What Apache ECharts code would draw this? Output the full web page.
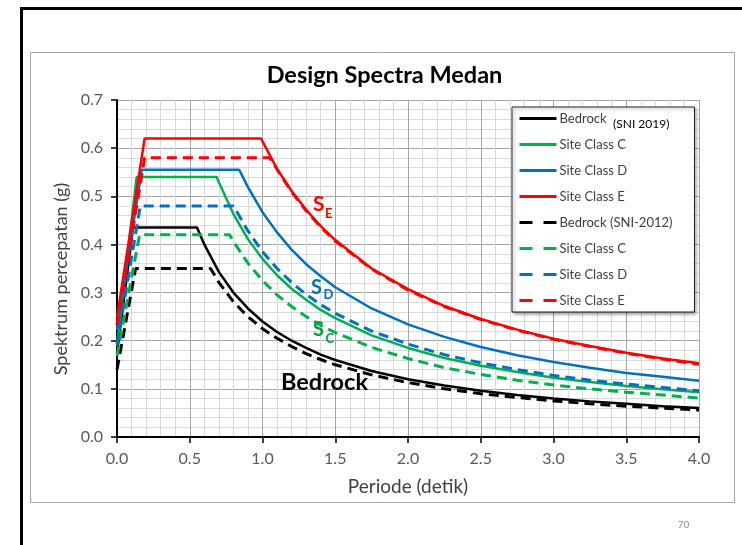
<!DOCTYPE html>
<html>
<head>
<meta charset="utf-8">
<script src="https://cdn.jsdelivr.net/npm/echarts@6/dist/echarts.min.js"></script>
<style>
  html, body { margin: 0; padding: 0; background: #ffffff; }
  #chart { width: 742px; height: 545px; }
</style>
</head>
<body>
<div id="chart"></div>
<script>
// Design response spectra, Medan: SNI 1726:2019 (solid) vs SNI 1726:2012 (dashed)
// Each list holds [period (s), spectral acceleration (g)]

const bedrock2019 = [[0,0.174],[0.11,0.435],[0.55,0.435],[0.6,0.400],[0.7,0.343],[0.8,0.300],[0.9,0.267],[1.0,0.240],[1.1,0.218],[1.2,0.200],[1.3,0.185],[1.4,0.171],[1.5,0.160],[1.75,0.137],[2.0,0.120],[2.25,0.107],[2.5,0.096],[2.75,0.087],[3.0,0.080],[3.25,0.074],[3.5,0.069],[3.75,0.064],[4.0,0.060]];
const siteC2019 = [[0,0.19],[0.135,0.54],[0.685,0.54],[0.7,0.529],[0.8,0.463],[0.9,0.411],[1.0,0.370],[1.1,0.336],[1.2,0.308],[1.3,0.285],[1.4,0.264],[1.5,0.247],[1.75,0.211],[2.0,0.185],[2.25,0.164],[2.5,0.148],[2.75,0.135],[3.0,0.123],[3.25,0.114],[3.5,0.106],[3.75,0.099],[4.0,0.093]];
const siteD2019 = [[0,0.222],[0.17,0.555],[0.84,0.555],[0.9,0.519],[1.0,0.467],[1.1,0.425],[1.2,0.389],[1.3,0.359],[1.4,0.334],[1.5,0.311],[1.75,0.267],[2.0,0.234],[2.25,0.208],[2.5,0.187],[2.75,0.170],[3.0,0.156],[3.25,0.144],[3.5,0.133],[3.75,0.125],[4.0,0.117]];
const siteE2019 = [[0,0.248],[0.19,0.62],[0.99,0.62],[1.1,0.557],[1.2,0.511],[1.3,0.472],[1.4,0.438],[1.5,0.409],[1.75,0.350],[2.0,0.307],[2.25,0.272],[2.5,0.245],[2.75,0.223],[3.0,0.204],[3.25,0.189],[3.5,0.175],[3.75,0.163],[4.0,0.153]];

const bedrock2012 = [[0,0.14],[0.128,0.35],[0.643,0.35],[0.7,0.321],[0.8,0.281],[0.9,0.250],[1.0,0.225],[1.1,0.205],[1.2,0.188],[1.3,0.173],[1.4,0.161],[1.5,0.150],[1.75,0.129],[2.0,0.113],[2.25,0.100],[2.5,0.090],[2.75,0.082],[3.0,0.075],[3.25,0.069],[3.5,0.064],[3.75,0.060],[4.0,0.056]];
const siteC2012 = [[0,0.168],[0.155,0.42],[0.774,0.42],[0.8,0.406],[0.9,0.361],[1.0,0.325],[1.1,0.295],[1.2,0.271],[1.3,0.250],[1.4,0.232],[1.5,0.217],[1.75,0.186],[2.0,0.163],[2.25,0.144],[2.5,0.130],[2.75,0.118],[3.0,0.108],[3.25,0.100],[3.5,0.093],[3.75,0.087],[4.0,0.081]];
const siteD2012 = [[0,0.192],[0.16,0.48],[0.80,0.48],[0.9,0.428],[1.0,0.385],[1.1,0.350],[1.2,0.321],[1.3,0.296],[1.4,0.275],[1.5,0.257],[1.75,0.220],[2.0,0.193],[2.25,0.171],[2.5,0.154],[2.75,0.140],[3.0,0.128],[3.25,0.118],[3.5,0.110],[3.75,0.103],[4.0,0.096]];
const siteE2012 = [[0,0.232],[0.19,0.58],[1.05,0.58],[1.1,0.556],[1.2,0.509],[1.3,0.470],[1.4,0.436],[1.5,0.407],[1.75,0.349],[2.0,0.305],[2.25,0.271],[2.5,0.244],[2.75,0.222],[3.0,0.203],[3.25,0.188],[3.5,0.174],[3.75,0.162],[4.0,0.151]];

const seriesKeys   = ['b19', 'c19', 'd19', 'e19', 'b12', 'c12', 'd12', 'e12'];
const legendLabels = ['Bedrock', 'Site Class C', 'Site Class D', 'Site Class E',
                      'Bedrock (SNI-2012)', 'Site Class C', 'Site Class D', 'Site Class E'];
const seriesData   = [bedrock2019, siteC2019, siteD2019, siteE2019,
                      bedrock2012, siteC2012, siteD2012, siteE2012];
const seriesColors = ['#000000', '#00B050', '#0070C0', '#FF0000',
                      '#000000', '#00B050', '#0070C0', '#FF0000'];

const FONT = 'Lato, "Noto Sans", sans-serif';
const DASH = [10, 6];

const chart = echarts.init(document.getElementById('chart'), null, { renderer: 'canvas' });

const series = seriesKeys.map(function (key, i) {
  const dashed = i >= 4;
  return {
    name: key,
    type: 'line',
    data: seriesData[i],
    symbol: 'none',
    silent: true,
    animation: false,
    color: seriesColors[i],
    lineStyle: { color: seriesColors[i], width: dashed ? 3 : 2.5, type: dashed ? DASH : 'solid', cap: 'butt' },
    z: dashed ? 3 : 2
  };
});

const labelOf = {};
seriesKeys.forEach(function (k, i) { labelOf[k] = legendLabels[i]; });

const option = {
  backgroundColor: '#ffffff',
  animation: false,
  textStyle: { fontFamily: FONT },
  grid: { left: 117, right: 43, top: 100, bottom: 108, containLabel: false },
  xAxis: {
    type: 'value', min: 0, max: 4, interval: 0.5,
    name: 'Periode (detik)', nameLocation: 'middle', nameGap: 40,
    nameTextStyle: { fontSize: 19, color: '#404040', fontFamily: FONT },
    axisLine: { show: true, onZero: false, lineStyle: { color: '#000', width: 2 } },
    axisTick: { show: true, length: 6, lineStyle: { color: '#000', width: 1.5 } },
    axisLabel: { fontSize: 16, color: '#595959', margin: 14, fontFamily: FONT,
                 formatter: function (v) { return v.toFixed(1); } },
    splitLine: { show: true, lineStyle: { color: '#a6a6a6', width: 1 } },
    minorTick: { show: false, splitNumber: 5 },
    minorSplitLine: { show: true, lineStyle: { color: '#dadada', width: 1 } }
  },
  yAxis: {
    type: 'value', min: 0, max: 0.7, interval: 0.1,
    name: 'Spektrum percepatan (g)', nameLocation: 'middle', nameGap: 41,
    nameTextStyle: { fontSize: 18, color: '#404040', fontFamily: FONT, padding: [0, 21, 0, 0] },
    axisLine: { show: true, onZero: false, lineStyle: { color: '#000', width: 2 } },
    axisTick: { show: true, length: 6, lineStyle: { color: '#000', width: 1.5 } },
    axisLabel: { fontSize: 16, color: '#595959', margin: 14, fontFamily: FONT,
                 formatter: function (v) { return v.toFixed(1); } },
    splitLine: { show: true, lineStyle: { color: '#a6a6a6', width: 1 } },
    minorTick: { show: false, splitNumber: 5 },
    minorSplitLine: { show: true, lineStyle: { color: '#dadada', width: 1 } }
  },
  legend: {
    orient: 'vertical', left: 512, top: 107,
    itemWidth: 37, itemHeight: 14, itemGap: 13,
    padding: [5, 22, 5, 6],
    backgroundColor: '#ffffff', borderColor: '#202020', borderWidth: 1,
    shadowColor: 'rgba(0,0,0,0.35)', shadowBlur: 3, shadowOffsetX: 2, shadowOffsetY: 2,
    selectedMode: false,
    itemStyle: { opacity: 0 },
    textStyle: { fontSize: 13, color: '#404040', fontFamily: FONT, padding: [0, 0, 0, -2] },
    data: seriesKeys.map(function (k, i) {
      const dashed = i >= 4;
      return {
        name: k,
        lineStyle: { width: 3, type: dashed ? [13, 11] : 'solid', color: seriesColors[i] }
      };
    }),
    formatter: function (name) { return labelOf[name]; }
  },
  series: series,
  graphic: [
    // page frame
    { type: 'line', silent: true, shape: { x1: 21.5, y1: 8, x2: 21.5, y2: 545 },
      style: { stroke: '#000', lineWidth: 3 } },
    { type: 'line', silent: true, shape: { x1: 20, y1: 8.5, x2: 742, y2: 8.5 },
      style: { stroke: '#000', lineWidth: 3 } },
    // chart area border
    { type: 'rect', silent: true, shape: { x: 30.5, y: 52.5, width: 704, height: 450 },
      style: { fill: 'none', stroke: '#a6a6a6', lineWidth: 1 } },
    // title
    { type: 'text', silent: true, x: 384.5, y: 75,
      style: { text: 'Design Spectra Medan', font: 'bold 23.5px ' + FONT, fill: '#000',
               align: 'center', verticalAlign: 'middle' } },
    // legend note
    { type: 'text', silent: true, x: 613, y: 124.5,
      style: { text: '(SNI 2019)', font: '12px ' + FONT, fill: '#000',
               align: 'left', verticalAlign: 'middle' }, z: 100 },
    // curve annotations
    { type: 'text', silent: true, x: 313, y: 204,
      style: { text: 'S', font: 'bold 21px ' + FONT, fill: '#FF0000', align: 'left', verticalAlign: 'middle' }, z: 50 },
    { type: 'text', silent: true, x: 325, y: 213.5,
      style: { text: 'E', font: 'bold 13px ' + FONT, fill: '#FF0000', align: 'left', verticalAlign: 'middle' }, z: 50 },
    { type: 'text', silent: true, x: 311, y: 287.5,
      style: { text: 'S', font: 'bold 20px ' + FONT, fill: '#0070C0', align: 'left', verticalAlign: 'middle' }, z: 50 },
    { type: 'text', silent: true, x: 323.5, y: 295,
      style: { text: 'D', font: 'bold 13px ' + FONT, fill: '#0070C0', align: 'left', verticalAlign: 'middle' }, z: 50 },
    { type: 'text', silent: true, x: 313, y: 330,
      style: { text: 'S', font: 'bold 20px ' + FONT, fill: '#00A03C', align: 'left', verticalAlign: 'middle' }, z: 50 },
    { type: 'text', silent: true, x: 325.5, y: 338.5,
      style: { text: 'C', font: 'bold 13px ' + FONT, fill: '#00A03C', align: 'left', verticalAlign: 'middle' }, z: 50 },
    { type: 'text', silent: true, x: 281, y: 382,
      style: { text: 'Bedrock', font: 'bold 23.5px ' + FONT, fill: '#000', align: 'left', verticalAlign: 'middle' }, z: 50 },
    // page number
    { type: 'text', silent: true, x: 683.5, y: 525,
      style: { text: '70', font: '10px ' + FONT, fill: '#8c8c8c', align: 'center', verticalAlign: 'middle' } }
  ]
};

chart.setOption(option);
</script>
</body>
</html>
